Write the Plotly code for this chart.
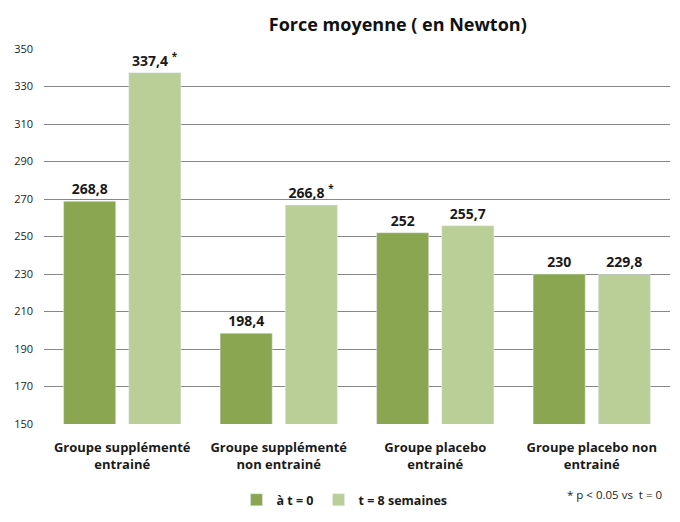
import plotly.graph_objects as go

categories = ["Groupe supplémenté<br>entrainé", "Groupe supplémenté<br>non entrainé",
              "Groupe placebo<br>entrainé", "Groupe placebo non<br>entrainé"]
t0_values = [268.8, 198.4, 252, 230]
t8_values = [337.4, 266.8, 255.7, 229.8]
t8_signif = [True, True, False, False]
series_names = ["à t = 0", "t = 8 semaines"]

def fmt(v):
    s = ("%g" % v).replace(".", ",")
    return s

t0_text = [fmt(v) for v in t0_values]
t8_text = [fmt(v) + (" <sup>*</sup>" if s else "") for v, s in zip(t8_values, t8_signif)]

FONT = "Open Sans"
fig = go.Figure()
fig.add_trace(go.Bar(x=categories, y=t0_values, name=series_names[0], marker_color="#8BA650",
                     text=t0_text, textposition="outside", cliponaxis=False,
                     textfont=dict(family=FONT, size=14, color="#1a1a1a", weight="bold")))
fig.add_trace(go.Bar(x=categories, y=t8_values, name=series_names[1], marker_color="#BACF98",
                     text=t8_text, textposition="outside", cliponaxis=False,
                     textfont=dict(family=FONT, size=14, color="#1a1a1a", weight="bold")))

fig.update_layout(
    width=680, height=522,
    margin=dict(l=44, r=10, t=49, b=98, autoexpand=False),
    paper_bgcolor="white", plot_bgcolor="white",
    barmode="group", bargap=0.167, bargroupgap=0.2,
    title=dict(text="<b>Force moyenne ( en Newton)</b>", x=0.585, xanchor="center", y=0.952, yanchor="middle",
               font=dict(family=FONT, size=18, color="#111")),
    font=dict(family=FONT, color="#222"),
    xaxis=dict(tickfont=dict(family=FONT, size=13, color="#1a1a1a", weight="bold"), showline=False,
               ticks="", showgrid=False, ticklabelstandoff=14),
    yaxis=dict(range=[150, 350], dtick=20, tick0=150, showgrid=True, gridcolor="#878787", gridwidth=1,
               zeroline=False, tickfont=dict(family=FONT, size=11, color="#222"), ticklabelstandoff=10),
    legend=dict(orientation="h", x=0.48, xanchor="center", yref="container", y=0.042, yanchor="middle",
                font=dict(family=FONT, size=12.5, color="#1a1a1a", weight="bold"), itemwidth=30),
    showlegend=True,
)
fig.add_annotation(text="* p < 0.05 vs  t = 0", xref="paper", yref="paper", x=0.99, y=-0.189,
                   xanchor="right", yanchor="middle", showarrow=False,
                   font=dict(family=FONT, size=11.5, color="#222"))
fig.write_html("out.html")
